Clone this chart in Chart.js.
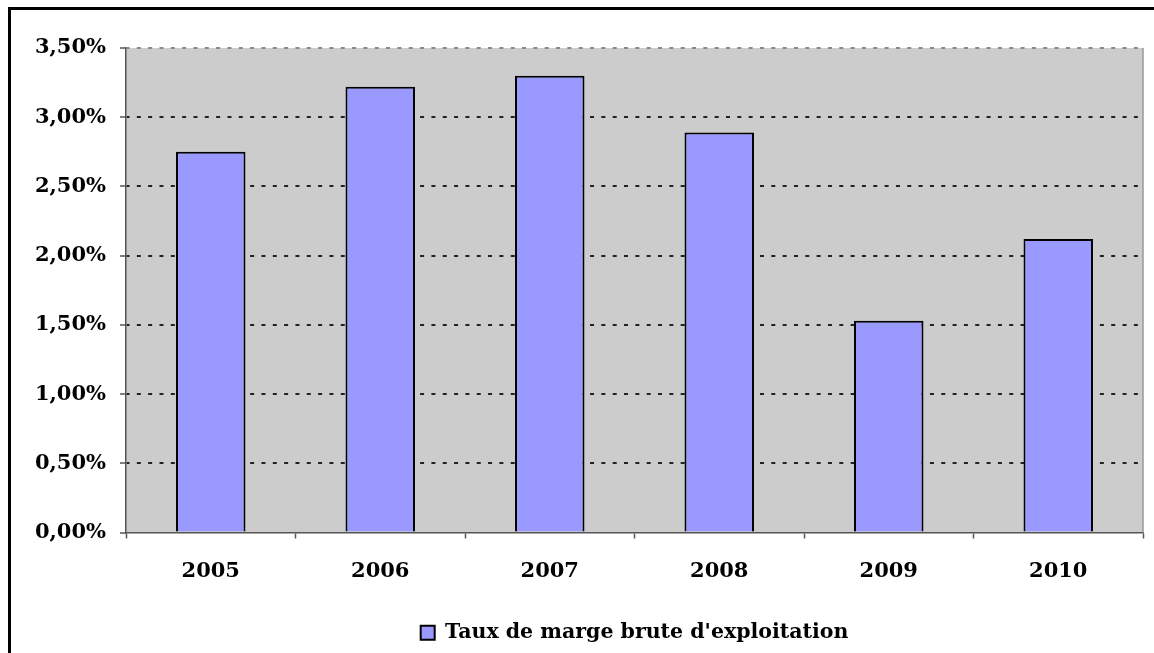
<!DOCTYPE html>
<html>
<head>
<meta charset="utf-8">
<script src="https://cdn.jsdelivr.net/npm/chart.js@4"></script>
<style>
  html, body { margin: 0; padding: 0; background: #fff; }
  #c { display: block; }
</style>
</head>
<body>
<canvas id="c" width="1154" height="653"></canvas>
<script>
const categories = ['2005', '2006', '2007', '2008', '2009', '2010'];
const values = [2.75, 3.22, 3.30, 2.89, 1.53, 2.12];
const seriesLabel = "Taux de marge brute d'exploitation";
const yMin = 0;
const yMax = 3.5;
const yStep = 0.5;

const FONT = '"DejaVu Serif", serif';

const decor = {
  id: 'decor',
  beforeDraw(chart) {
    const { ctx, chartArea: a } = chart;
    ctx.save();
    ctx.fillStyle = '#ffffff';
    ctx.fillRect(0, 0, chart.width, chart.height);
    ctx.fillStyle = '#cccccc';
    ctx.fillRect(a.left, a.top, a.right - a.left, a.bottom - a.top);
    ctx.restore();
  },
  afterDraw(chart) {
    const { ctx, chartArea: a } = chart;
    ctx.save();
    ctx.strokeStyle = '#999999';
    ctx.lineWidth = 1.5;
    ctx.beginPath();
    ctx.moveTo(a.right, a.top);
    ctx.lineTo(a.right, a.bottom);
    ctx.stroke();
    ctx.strokeStyle = '#000000';
    ctx.lineWidth = 3;
    ctx.strokeRect(9.5, 8.5, 3000, 3000);
    ctx.restore();
  }
};

Chart.defaults.color = '#000';
Chart.defaults.font.family = FONT;

new Chart(document.getElementById('c'), {
  type: 'bar',
  data: {
    labels: categories,
    datasets: [{
      label: seriesLabel,
      data: values,
      backgroundColor: '#9999ff',
      borderColor: '#000000',
      borderWidth: 2,
      barPercentage: 0.41,
      categoryPercentage: 1.0
    }]
  },
  options: {
    responsive: false,
    animation: false,
    layout: { padding: { left: 0, right: 11, top: 48, bottom: 0 } },
    plugins: {
      tooltip: { enabled: false },
      legend: {
        display: true,
        position: 'bottom',
        fullSize: false,
        labels: {
          boxWidth: 14,
          boxHeight: 14,
          padding: 9,
          color: '#000',
          font: { family: FONT, size: 20.5, weight: 'bold' }
        }
      }
    },
    scales: {
      x: {
        afterFit(scale) { scale.height = 81; },
        grid: {
          offset: true,
          drawOnChartArea: false,
          drawTicks: true,
          tickLength: 6,
          tickColor: '#555',
          tickWidth: 1.5
        },
        border: { display: true, color: '#555', width: 1.5 },
        ticks: {
          padding: 20,
          color: '#000',
          font: { family: FONT, size: 21, weight: 'bold' }
        }
      },
      y: {
        min: yMin,
        max: yMax,
        afterFit(scale) { scale.width = 126; },
        grid: {
          drawTicks: true,
          tickLength: 6,
          tickColor: '#555',
          tickWidth: 1.5,
          tickBorderDash: [],
          lineWidth: 2,
          color(ctx) {
            if (ctx.tick && ctx.tick.value === yMin) return 'rgba(0,0,0,0)';
            if (ctx.tick && ctx.tick.value === yMax) return '#8a8a8a';
            return '#222';
          }
        },
        border: { display: true, color: '#555', width: 1.5, dash: [4, 7.33], dashOffset: 1 },
        ticks: {
          stepSize: yStep,
          padding: 14,
          color: '#000',
          font: { family: FONT, size: 21, weight: 'bold' },
          callback(v) { return v.toFixed(2).replace('.', ',') + '%'; }
        }
      }
    }
  },
  plugins: [decor]
});
</script>
</body>
</html>
